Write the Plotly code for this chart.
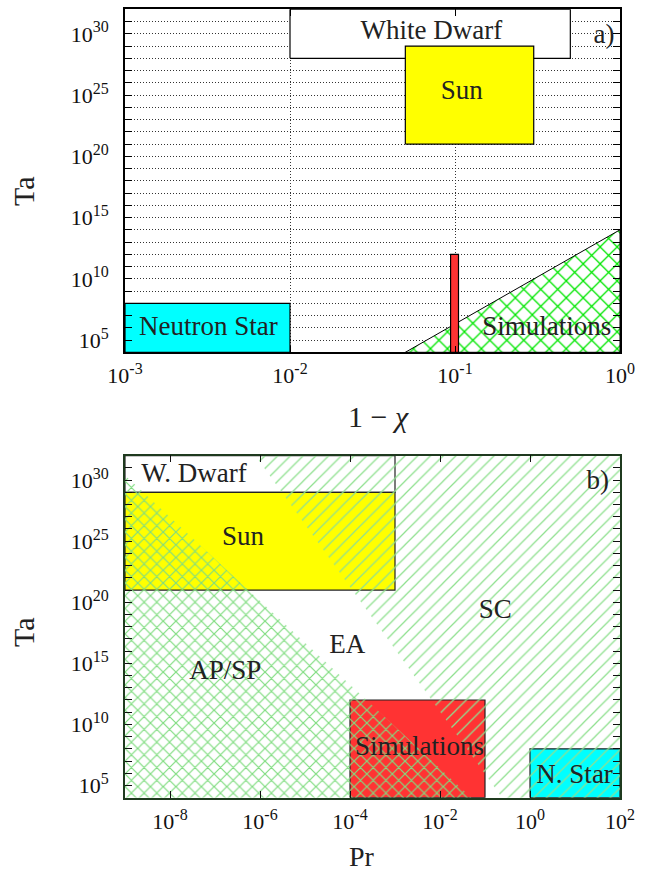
import plotly.graph_objects as go

# ---------------- Panel a) : Ta vs 1 - chi ----------------
a_box_names = ["White Dwarf", "Sun", "Neutron Star", "Simulations bar"]
a_box_x0 = [1e-2, 0.05, 1e-3, 0.094]
a_box_x1 = [0.5, 0.3, 1e-2, 0.105]
a_box_y0 = [1e28, 1e21, 1e4, 1e4]
a_box_y1 = [1e32, 1e29, 1e8, 1e12]
a_box_colors = ["#ffffff", "#ffff00", "#00ffff", "#ff3333"]

# hatched "Simulations" wedge
a_sim_x = [0.05, 1.0, 1.0, 0.05]
a_sim_y = [1e4, 1e14, 1e4, 1e4]

a_labels = ["White Dwarf", "Sun", "Neutron Star", "Simulations", "a)"]
a_label_x = [0.072, 0.11, 0.0032, 0.36, 0.80]
a_label_y = [1.4e30, 1.6e25, 1e6, 1e6, 6.6e29]

a_xexp = [-3, -2, -1, 0]

# ---------------- Panel b) : Ta vs Pr ----------------
b_box_names = ["W. Dwarf", "Sun", "Simulations", "N. Star"]
b_box_x0 = [1e-9, 1e-9, 1e-4, 1e0]
b_box_x1 = [1e-3, 1e-3, 1e-1, 1e2]
b_box_y0 = [1e29, 1e21, 1e4, 1e4]
b_box_y1 = [1e32, 1e29, 1e12, 1e8]
b_box_colors = ["#ffffff", "#ffff00", "#ff3333", "#00ffff"]

# AP/SP region (cross hatched) and SC region (single hatched)
b_apsp_x = [1e-9, 1e-9, 0.05, 1e-9]
b_apsp_y = [1e4, 2.5e30, 1e4, 1e4]
b_sc_x = [7.9e-7, 1e2, 1e2, 0.24, 7.9e-7]
b_sc_y = [1e32, 1e32, 1e4, 1e4, 1e32]

b_labels = ["W. Dwarf", "Sun", "SC", "EA", "AP/SP", "Simulations", "N. Star", "b)"]
b_label_x = [3.4e-8, 4.2e-7, 0.17, 8.7e-5, 1.7e-7, 3.5e-3, 9.8, 32]
b_label_y = [2.6e30, 1.7e25, 1.7e19, 2.3e16, 2.0e14, 1.1e8, 5.9e5, 6.2e29]

b_xexp = [-8, -6, -4, -2, 0, 2]

# shared Ta axis: labelled decades and every-decade minor ticks
ta_label_exp = [5, 10, 15, 20, 25, 30]
ta_minor_exp = list(range(4, 33))


def pow_label(e):
    return f"10<sup><span style='font-size:16px'>{e}</span></sup>"


ta_ticks = [10.0 ** e for e in ta_label_exp]
ta_ticktext = [pow_label(e) for e in ta_label_exp]
ta_minor = [10.0 ** e for e in ta_minor_exp]
a_xticks = [10.0 ** e for e in a_xexp]
a_xticktext = [pow_label(e) for e in a_xexp]
b_xticks = [10.0 ** e for e in b_xexp]
b_xticktext = [pow_label(e) for e in b_xexp]

FONT = "Liberation Serif"
TEXTCOL = "#222222"

fig = go.Figure()


def box_trace(x0, x1, y0, y1, color, xa, ya, lc="#000000", lw=1.2):
    return go.Scatter(
        x=[x0, x1, x1, x0, x0], y=[y0, y0, y1, y1, y0],
        mode="lines", fill="toself", fillcolor=color,
        line=dict(color=lc, width=lw), hoverinfo="skip",
        showlegend=False, xaxis=xa, yaxis=ya)


# panel a boxes (white dwarf, sun, neutron star)
for i in range(3):
    fig.add_trace(box_trace(a_box_x0[i], a_box_x1[i], a_box_y0[i], a_box_y1[i],
                            a_box_colors[i], "x", "y"))
# hatched simulations wedge
fig.add_trace(go.Scatter(
    x=a_sim_x, y=a_sim_y, mode="lines", fill="toself",
    fillcolor="#ffffff",
    fillpattern=dict(shape="x", fgcolor="#00e600", bgcolor="#ffffff",
                     size=12, solidity=0.2, fillmode="replace"),
    line=dict(color="#000000", width=1), hoverinfo="skip",
    showlegend=False, xaxis="x", yaxis="y"))
# red bar
fig.add_trace(box_trace(a_box_x0[3], a_box_x1[3], a_box_y0[3], a_box_y1[3],
                        a_box_colors[3], "x", "y"))
fig.add_trace(go.Scatter(
    x=a_label_x, y=a_label_y, text=a_labels, mode="text",
    textfont=dict(family=FONT, size=27, color=TEXTCOL),
    hoverinfo="skip", showlegend=False, xaxis="x", yaxis="y"))

# panel b boxes
for i in range(4):
    fig.add_trace(box_trace(b_box_x0[i], b_box_x1[i], b_box_y0[i], b_box_y1[i],
                            b_box_colors[i], "x2", "y2", lc="#222222", lw=1.2))
# hatched regions
fig.add_trace(go.Scatter(
    x=b_apsp_x, y=b_apsp_y, mode="lines", fill="toself",
    fillpattern=dict(shape="x", fgcolor="#80dc80", size=9, solidity=0.25,
                     fillmode="replace"),
    line=dict(width=0, color="rgba(0,0,0,0)"), hoverinfo="skip",
    showlegend=False, xaxis="x2", yaxis="y2"))
fig.add_trace(go.Scatter(
    x=b_sc_x, y=b_sc_y, mode="lines", fill="toself",
    fillpattern=dict(shape="/", fgcolor="#8fe08f", size=9, solidity=0.14,
                     fillmode="replace"),
    line=dict(width=0, color="rgba(0,0,0,0)"), hoverinfo="skip",
    showlegend=False, xaxis="x2", yaxis="y2"))
fig.add_trace(go.Scatter(
    x=b_label_x, y=b_label_y, text=b_labels, mode="text",
    textfont=dict(family=FONT, size=27, color=TEXTCOL),
    hoverinfo="skip", showlegend=False, xaxis="x2", yaxis="y2"))

W, H = 647, 873
xdom = [125 / W, 620 / W]
a_ydom = [1 - 352.3 / H, 1 - 9.3 / H]
b_ydom = [1 - 797.7 / H, 1 - 455.7 / H]

tickfont = dict(family=FONT, size=22, color="#111111")

common = dict(type="log", ticks="inside", ticklen=7, tickwidth=1,
              mirror="allticks", showline=True, linewidth=1.5,
              tickfont=tickfont, zeroline=False, automargin=False)
grid = dict(griddash="1px,2px", gridcolor="#333333", gridwidth=1)

fig.update_layout(
    width=W, height=H, autosize=False,
    margin=dict(l=0, r=0, t=0, b=0),
    paper_bgcolor="white", plot_bgcolor="white",
    xaxis=dict(domain=xdom, anchor="y", range=[-3, 0],
               tickvals=a_xticks, ticktext=a_xticktext, ticklabelstandoff=3,
               showgrid=True, **grid,
               linecolor="#000000", tickcolor="#000000", **common),
    yaxis=dict(domain=a_ydom, anchor="x", range=[4, 32],
               tickvals=ta_ticks, ticktext=ta_ticktext, ticklabelstandoff=10,
               showgrid=True, **grid,
               minor=dict(tickvals=ta_minor, ticks="inside", ticklen=7,
                          tickcolor="#000000", showgrid=True, **grid),
               linecolor="#000000", tickcolor="#000000", **common),
    xaxis2=dict(domain=xdom, anchor="y2", range=[-9, 2],
                tickvals=b_xticks, ticktext=b_xticktext, showgrid=False,
                ticklabelstandoff=3,
                linecolor="#1f3a1f", tickcolor="#111111", **common),
    yaxis2=dict(domain=b_ydom, anchor="x2", range=[4, 32],
                tickvals=ta_ticks, ticktext=ta_ticktext, showgrid=False,
                ticklabelstandoff=10,
                minor=dict(tickvals=ta_minor, ticks="inside", ticklen=7,
                           tickcolor="#111111", showgrid=False),
                linecolor="#1f3a1f", tickcolor="#111111", **common),
    annotations=[
        dict(text="Ta", x=23 / W, y=1 - 191 / H, xref="paper", yref="paper",
             xanchor="center", yanchor="middle",
             showarrow=False, textangle=-90,
             font=dict(family=FONT, size=30, color=TEXTCOL)),
        dict(text="1 − <i>χ</i>", x=378 / W, y=1 - 416 / H, xref="paper", yref="paper",
             xanchor="center", yanchor="middle",
             showarrow=False, font=dict(family=FONT, size=30, color=TEXTCOL)),
        dict(text="Ta", x=23 / W, y=1 - 632 / H, xref="paper", yref="paper",
             xanchor="center", yanchor="middle",
             showarrow=False, textangle=-90,
             font=dict(family=FONT, size=30, color=TEXTCOL)),
        dict(text="Pr", x=362 / W, y=1 - 856 / H, xref="paper", yref="paper",
             xanchor="center", yanchor="middle",
             showarrow=False, font=dict(family=FONT, size=28, color=TEXTCOL)),
    ],
)

fig.write_html("out.html",
               config={"displayModeBar": False},
               post_script="document.body.style.margin='0px';"
                           "document.body.style.padding='0px';")
